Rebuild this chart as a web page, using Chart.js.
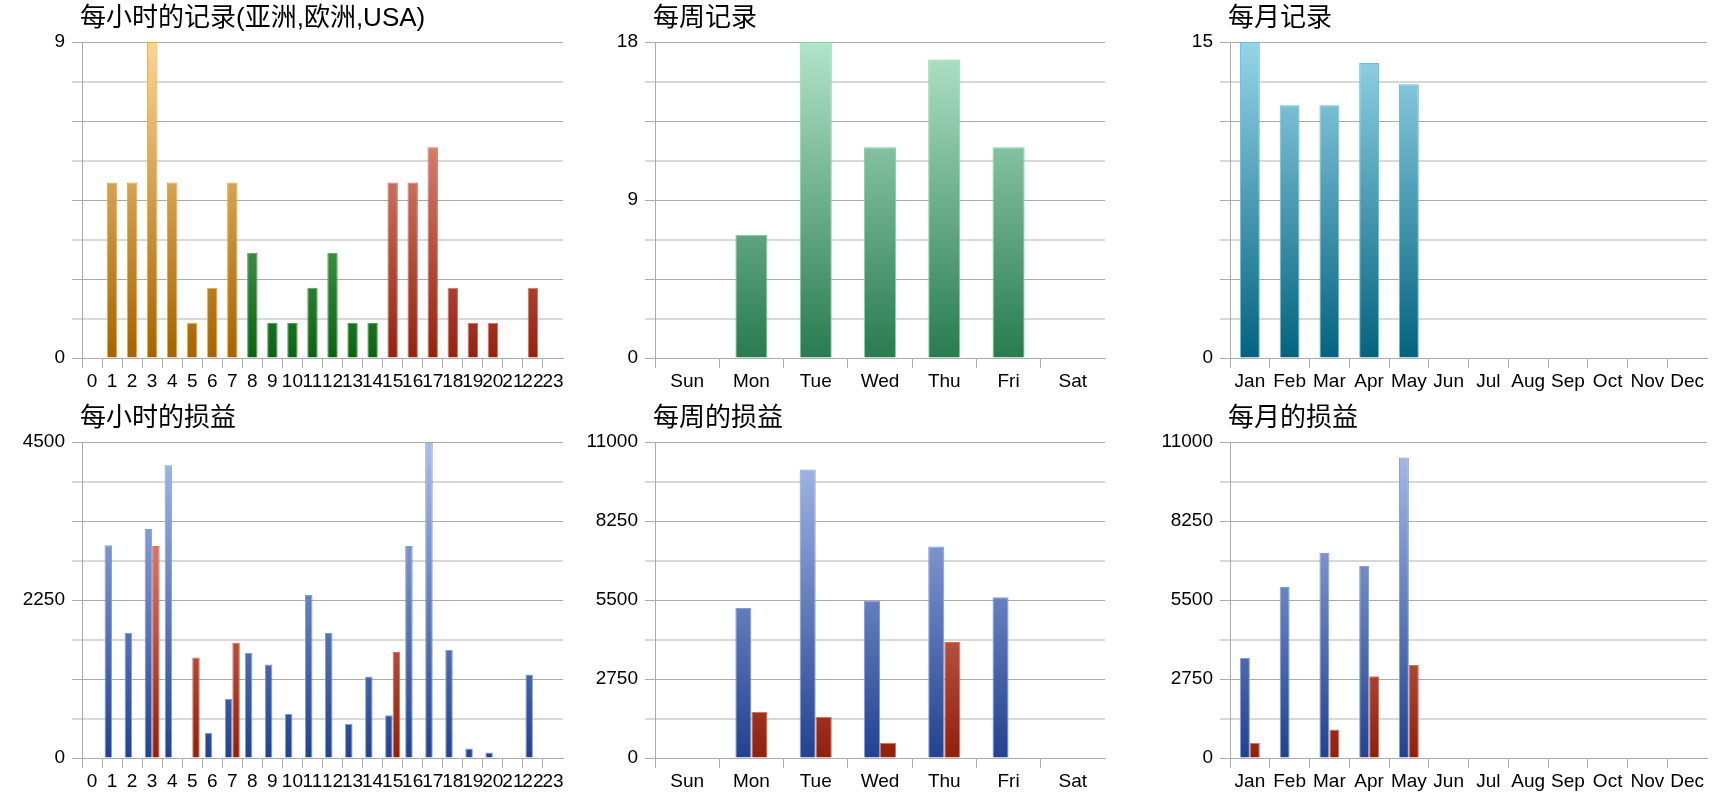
<!DOCTYPE html>
<html><head><meta charset="utf-8">
<script src="https://cdn.jsdelivr.net/npm/chart.js@4/dist/chart.umd.min.js"></script>
<style>
html,body{margin:0;padding:0;background:#fff;width:1720px;height:800px;overflow:hidden}
canvas{position:absolute}
</style></head><body>
<canvas id="c1" width="571" height="400" style="left:0px;top:0px"></canvas>
<canvas id="c2" width="540" height="400" style="left:573px;top:0px"></canvas>
<canvas id="c3" width="567" height="400" style="left:1148px;top:0px"></canvas>
<canvas id="c4" width="571" height="400" style="left:0px;top:400px"></canvas>
<canvas id="c5" width="540" height="400" style="left:573px;top:400px"></canvas>
<canvas id="c6" width="567" height="400" style="left:1148px;top:400px"></canvas>
<script>
// ---- data ----
const hours = ['0','1','2','3','4','5','6','7','8','9','10','11','12','13','14','15','16','17','18','19','20','21','22','23'];
const days = ['Sun','Mon','Tue','Wed','Thu','Fri','Sat'];
const months = ['Jan','Feb','Mar','Apr','May','Jun','Jul','Aug','Sep','Oct','Nov','Dec'];

const asiaHourly   = [0,5,5,9,5,1,2,5,null,null,null,null,null,null,null,null,null,null,null,null,null,null,null,null];
const europeHourly = [null,null,null,null,null,null,null,null,3,1,1,2,3,1,1,null,null,null,null,null,null,null,null,null];
const usaHourly    = [null,null,null,null,null,null,null,null,null,null,null,null,null,null,null,5,5,6,2,1,1,0,2,0];

const hourlyProfit = [0,3030,1780,3260,4170,0,360,840,1495,1330,625,2320,1780,485,1160,610,3020,4490,1540,135,80,0,1190,0];
const hourlyLoss   = [0,0,0,3020,0,1430,0,1640,0,0,0,0,0,0,0,1510,0,0,0,0,0,0,0,0];

const weeklyRecords = [0,7,18,12,17,12,0];
const weeklyProfit  = [0,5220,10040,5470,7360,5600,0];
const weeklyLoss    = [0,1600,1430,520,4040,0,0];

const monthlyRecords = [15,12,12,14,13,0,0,0,0,0,0,0];
const monthlyProfit  = [3480,5950,7140,6680,10460,0,0,0,0,0,0,0];
const monthlyLoss    = [520,0,990,2850,3240,0,0,0,0,0,0,0];

const hourlyRecordTicks = [0,9];
const weeklyRecordTicks = [0,9,18];
const monthlyRecordTicks = [0,15];
const hourlyProfitTicks = [0,2250,4500];
const weeklyProfitTicks = [0,2750,5500,8250,11000];
const monthlyProfitTicks = [0,2750,5500,8250,11000];

const titles = ['每小时的记录(亚洲,欧洲,USA)','每周记录','每月记录','每小时的损益','每周的损益','每月的损益'];

// ---- styling helpers ----
Chart.defaults.font.family = '"Liberation Sans", Arial, sans-serif';
Chart.defaults.font.size = 19;
Chart.defaults.color = '#000';

const DARK = '#ababab', LIGHT = '#d8d8d8';

function grad(bottom, top) {
  return (ctx) => {
    const chart = ctx.chart, area = chart.chartArea;
    if (!area) return bottom;
    const g = chart.ctx.createLinearGradient(0, area.bottom, 0, area.top);
    g.addColorStop(0, bottom);
    g.addColorStop(1, top);
    return g;
  };
}

const leftTitle = {
  id: 'leftTitle',
  afterDraw(chart, args, opts) {
    const c = chart.ctx;
    c.save();
    c.font = '26px "Liberation Sans", "Noto Sans CJK SC", sans-serif';
    c.fillStyle = '#000';
    c.textBaseline = 'middle';
    c.textAlign = 'left';
    c.fillText(opts.text, chart.chartArea.left - 2, 19);
    c.restore();
  }
};

function yScale(max, labels) {
  return {
    min: 0, max: max,
    ticks: {
      stepSize: max / 8, autoSkip: false, padding: 7, color: '#000',
      callback: (v) => labels.some(l => Math.abs(l - v) < 1e-6) ? String(v) : ''
    },
    grid: {
      color: c => (c.index % 2 ? LIGHT : DARK),
      tickColor: c => (c.index % 2 ? LIGHT : DARK),
      lineWidth: c => (c.index % 2 ? 2 : 1),
      tickLength: 10, drawTicks: true
    },
    border: { display: true, color: DARK, width: 1 },
    afterFit: s => { s.width = 82; }
  };
}

function xScale() {
  return {
    offset: true,
    ticks: { autoSkip: false, maxRotation: 0, minRotation: 0, padding: 2, color: '#000' },
    grid: {
      offset: true, drawOnChartArea: false, drawTicks: true, tickLength: 10,
      color: DARK,
      tickColor: c => (c.tick ? DARK : 'rgba(0,0,0,0)')
    },
    border: { display: true, color: DARK },
    afterFit: s => { s.height = 42; }
  };
}

function makeChart(id, labels, datasets, yMax, yLabels, title) {
  return new Chart(document.getElementById(id), {
    type: 'bar',
    data: { labels: labels, datasets: datasets },
    options: {
      responsive: false, animation: false, devicePixelRatio: 1,
      layout: { padding: { top: 42, right: 8, bottom: 0, left: 0 } },
      plugins: { legend: { display: false }, tooltip: { enabled: false }, title: { display: false }, leftTitle: { text: title } },
      scales: { x: xScale(), y: yScale(yMax, yLabels) }
    },
    plugins: [leftTitle]
  });
}

const blueFill = grad('#22428f', '#a9bdea');
const redFill = grad('#8f200c', '#f0a48f');

function recordSet(data, fill, border, barPct) {
  return { data: data, backgroundColor: fill, borderColor: border, borderWidth: 1,
           grouped: false, barPercentage: barPct, categoryPercentage: 1 };
}
function plSets(profit, loss, catPct) {
  return [
    { data: profit, backgroundColor: blueFill, borderColor: '#7e9de0', borderWidth: 1, barPercentage: 1, categoryPercentage: catPct },
    { data: loss, backgroundColor: redFill, borderColor: '#e26c55', borderWidth: 1, barPercentage: 1, categoryPercentage: catPct }
  ];
}

makeChart('c1', hours, [
  recordSet(asiaHourly, grad('#a66300', '#fdd594'), '#f4a636', 0.52),
  recordSet(europeHourly, grad('#0a6313', '#9edc98'), '#4aa851', 0.52),
  recordSet(usaHourly, grad('#932310', '#f3a99b'), '#e0705e', 0.52)
], 9, hourlyRecordTicks, titles[0]);

makeChart('c2', days, [
  recordSet(weeklyRecords, grad('#287b4f', '#b2e4ca'), '#7fd4a8', 0.5)
], 18, weeklyRecordTicks, titles[1]);

makeChart('c3', months, [
  recordSet(monthlyRecords, grad('#03637e', '#96d5e8'), '#5ec2df', 0.5)
], 15, monthlyRecordTicks, titles[2]);

makeChart('c4', hours, plSets(hourlyProfit, hourlyLoss, 0.75), 4500, hourlyProfitTicks, titles[3]);
makeChart('c5', days, plSets(weeklyProfit, weeklyLoss, 0.5), 11000, weeklyProfitTicks, titles[4]);
makeChart('c6', months, plSets(monthlyProfit, monthlyLoss, 0.5), 11000, monthlyProfitTicks, titles[5]);
</script>
</body></html>
